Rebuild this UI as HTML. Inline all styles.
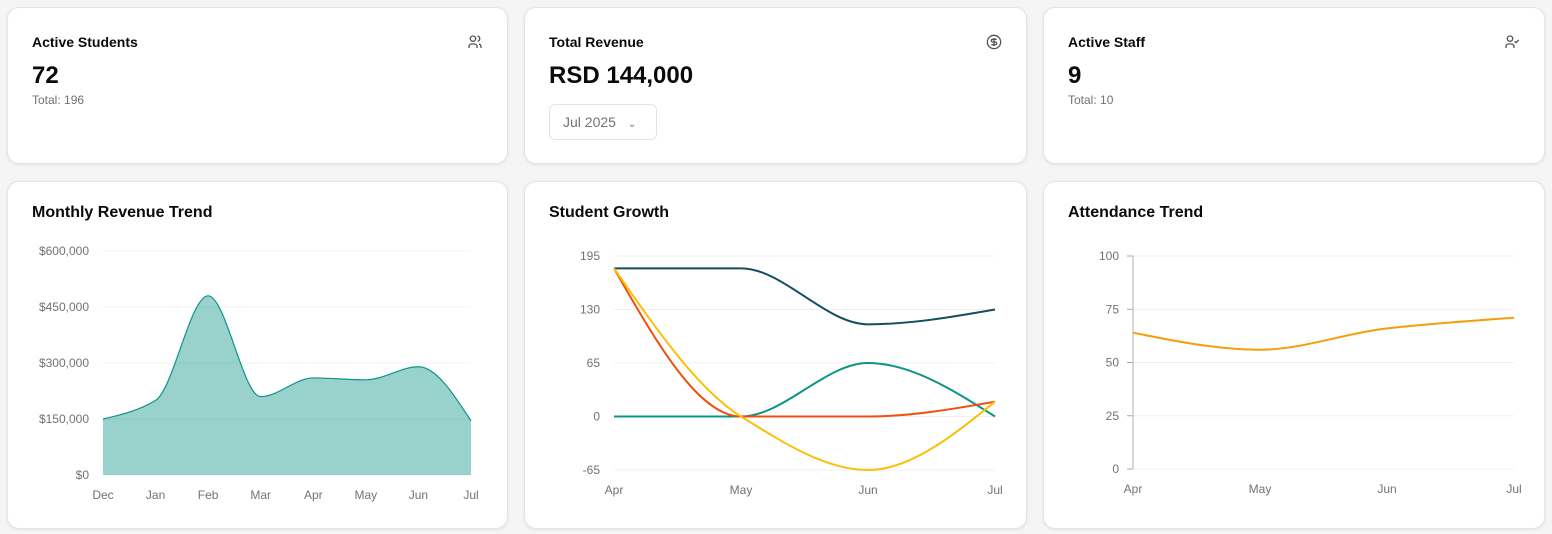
<!DOCTYPE html>
<html><head><meta charset="utf-8"><style>
*{box-sizing:border-box;margin:0;padding:0}
body{width:1552px;height:534px;background:#f5f5f5;font-family:"Liberation Sans",sans-serif;position:relative;overflow:hidden;color:#0a0a0a}
.card{position:absolute;background:#fff;border:1px solid #e4e4e7;border-radius:12px;box-shadow:0 1px 3px rgba(0,0,0,.08)}
.lbl{position:absolute;left:24px;top:26px;font-size:14px;font-weight:bold}
.big{position:absolute;left:24px;top:54px;font-size:24px;font-weight:bold}
.sub{position:absolute;left:24px;top:85px;font-size:12px;color:#71717a}
.ico{position:absolute;right:24px;top:26px}
.title{position:absolute;left:24px;top:22px;font-size:16px;font-weight:bold}
svg text{font-family:"Liberation Sans",sans-serif;font-size:12px;fill:#71717a}
</style></head><body>
<div class="card" style="left:7px;top:7px;width:501px;height:157px">
<div class="lbl">Active Students</div>
<svg class="ico" width="16" height="16" viewBox="0 0 24 24" fill="none" stroke="#555" stroke-width="2"><circle cx="9" cy="7" r="4"/><path d="M3 21v-2a4 4 0 0 1 4-4h4a4 4 0 0 1 4 4v2M16 3.1a4 4 0 0 1 0 7.8M21 21v-2a4 4 0 0 0-3-3.9"/></svg>
<div class="big">72</div>
<div class="sub">Total: 196</div></div>
<div class="card" style="left:524px;top:7px;width:503px;height:157px">
<div class="lbl">Total Revenue</div>
<svg class="ico" width="16" height="16" viewBox="0 0 24 24" fill="none" stroke="#555" stroke-width="2"><circle cx="12" cy="12" r="10"/><path d="M16 8h-6a2 2 0 1 0 0 4h4a2 2 0 1 1 0 4H8M12 18V6"/></svg>
<div class="big">RSD 144,000</div>
<div style="position:absolute;left:24px;top:96px;width:108px;height:36px;border:1px solid #e4e4e7;border-radius:6px;font-size:14px;color:#71717a;padding:9px 0 0 13px">Jul 2025 <span style="margin-left:8px;font-size:10px">&#8964;</span></div></div>
<div class="card" style="left:1043px;top:7px;width:502px;height:157px">
<div class="lbl">Active Staff</div>
<svg class="ico" width="16" height="16" viewBox="0 0 24 24" fill="none" stroke="#555" stroke-width="2"><circle cx="9" cy="7" r="4"/><path d="M3 21v-2a4 4 0 0 1 4-4h4a4 4 0 0 1 4 4v2M16 11l2 2 4-4"/></svg>
<div class="big">9</div>
<div class="sub">Total: 10</div></div>

<div class="card" style="left:7px;top:181px;width:501px;height:348px"><div class="title">Monthly Revenue Trend</div></div>
<div class="card" style="left:524px;top:181px;width:503px;height:348px"><div class="title">Student Growth</div></div>
<div class="card" style="left:1043px;top:181px;width:502px;height:348px"><div class="title">Attendance Trend</div></div>

<svg id="charts" width="1552" height="534" style="position:absolute;left:0;top:0"></svg>
<script>
const revMonths=["Dec","Jan","Feb","Mar","Apr","May","Jun","Jul"];
const revValues=[150000,200000,480000,210000,260000,255000,290000,145000];
const revTicks=[0,150000,300000,450000,600000];
const sgMonths=["Apr","May","Jun","Jul"];
const sgTotal=[180,180,112,130];
const sgNew=[0,0,65,0];
const sgLeft=[180,0,0,18];
const sgNet=[180,0,-65,18];
const sgTicks=[-65,0,65,130,195];
const atMonths=["Apr","May","Jun","Jul"];
const atValues=[64,56,66,71];
const atTicks=[0,25,50,75,100];

const svg=document.getElementById('charts');const NS='http://www.w3.org/2000/svg';
function mk(t,a,p){const e=document.createElementNS(NS,t);for(const k in a)e.setAttribute(k,a[k]);(p||svg).appendChild(e);return e;}
function monotone(pts){const n=pts.length;if(n<2)return'';const dx=[],s=[],m=[];
for(let i=0;i<n-1;i++){dx[i]=pts[i+1][0]-pts[i][0];s[i]=(pts[i+1][1]-pts[i][1])/dx[i];}
m[0]=s[0];m[n-1]=s[n-2];for(let i=1;i<n-1;i++){if(s[i-1]*s[i]<=0)m[i]=0;else{const h0=dx[i-1],h1=dx[i];m[i]=3*(h0+h1)/((2*h1+h0)/s[i-1]+(h1+2*h0)/s[i]);}}
if(n>2){m[0]=(3*s[0]-m[1])/2;if(m[0]*s[0]<=0)m[0]=0;m[n-1]=(3*s[n-2]-m[n-2])/2;if(m[n-1]*s[n-2]<=0)m[n-1]=0;}
let d='M'+pts[0][0]+','+pts[0][1];for(let i=0;i<n-1;i++){const h=dx[i]/3;d+=' C'+(pts[i][0]+h)+','+(pts[i][1]+m[i]*h)+' '+(pts[i+1][0]-h)+','+(pts[i+1][1]-m[i+1]*h)+' '+pts[i+1][0]+','+pts[i+1][1];}return d;}
function axes(x0,x1,y0,y1,lo,hi,cats,ticks,fmt,name){
 const X=i=>x0+(x1-x0)*i/(cats.length-1);const Y=v=>y0-(v-lo)/(hi-lo)*(y0-y1);
 ticks.forEach(t=>{const g=mk('line',{x1:x0,x2:x1,y1:Y(t),y2:Y(t),stroke:'#f0f0f0'});
 
 
 const tx=mk('text',{x:x0-14,y:Y(t)+4,'text-anchor':'end'});tx.textContent=fmt(t);
 
 });
 cats.forEach((c,i)=>{const tx=mk('text',{x:X(i),y:y0+24,'text-anchor':'middle'});tx.textContent=c;
 
 });
 return [X,Y];}
// revenue
let [X,Y]=axes(103,471,475,251,0,600000,revMonths,revTicks,v=>'$'+v.toLocaleString('en-US'),'revenue');
let pts=revValues.map((v,i)=>[X(i),Y(v)]);let d=monotone(pts);
const area=mk('path',{d:d+' L'+X(revValues.length-1)+','+Y(0)+' L'+X(0)+','+Y(0)+'Z',fill:'#0d9488','fill-opacity':'.42'});


const rl=mk('path',{d:d,fill:'none',stroke:'#0d9488','stroke-width':1.2});


// student growth
[X,Y]=axes(614,995,470,256,-65,195,sgMonths,sgTicks,v=>String(v),'growth');
[[sgTotal,'#134e5e','total-students-line'],[sgNew,'#0d9488','new-students-line'],[sgLeft,'#f04e0c','left-students-line'],[sgNet,'#fbbf0a','net-growth-line']].forEach(([arr,c,n])=>{
 const p=mk('path',{d:monotone(arr.map((v,i)=>[X(i),Y(v)])),fill:'none',stroke:c,'stroke-width':2});
 
 });
// attendance
[X,Y]=axes(1133,1514,469,256,0,100,atMonths,atTicks,v=>String(v),'attendance');
const ax=mk('line',{x1:1133,x2:1133,y1:256,y2:469,stroke:'#ccc','stroke-width':1.5});


atTicks.forEach(t=>{const tk=mk('line',{x1:1127,x2:1133,y1:Y(t),y2:Y(t),stroke:'#aaa'});
 
 });
const al=mk('path',{d:monotone(atValues.map((v,i)=>[X(i),Y(v)])),fill:'none',stroke:'#f59e0b','stroke-width':2});


</script></body></html>
